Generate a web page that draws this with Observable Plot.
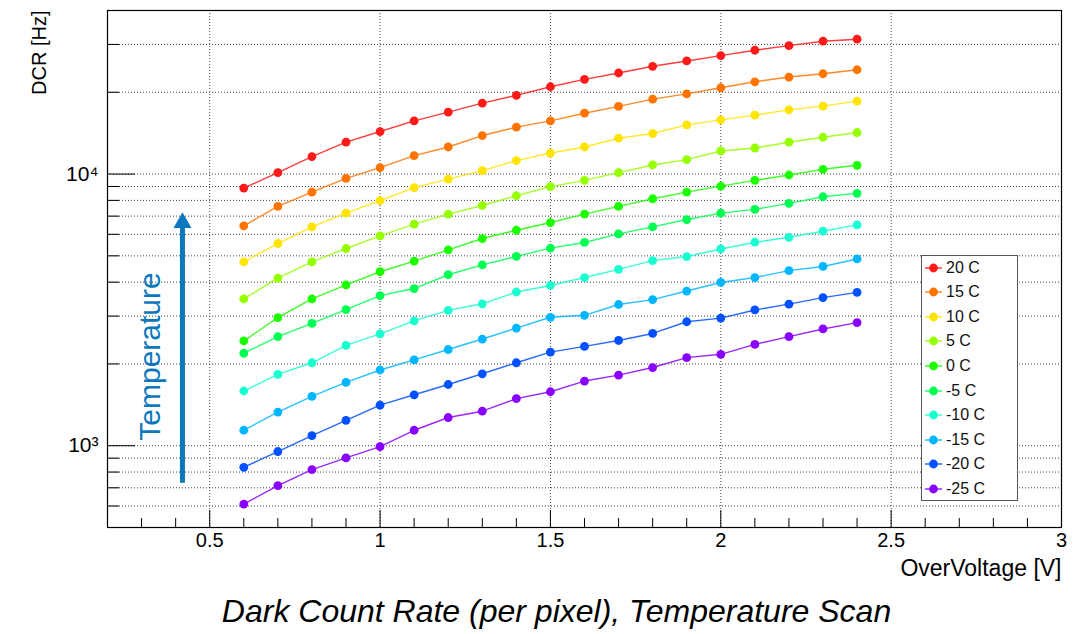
<!DOCTYPE html>
<html><head><meta charset="utf-8">
<script src="https://cdn.jsdelivr.net/npm/d3@7"></script>
<script src="https://cdn.jsdelivr.net/npm/@observablehq/plot@0.6"></script>
<style>
body{margin:0;background:#fff;}
#wrap{position:relative;width:1083px;height:634px;font-family:"Liberation Sans",Arial,Helvetica,sans-serif;}
#legend{position:absolute;left:921px;top:255px;width:97px;height:246px;border:1.5px solid #555;box-sizing:border-box;background:#fff;}
.item{position:absolute;left:0;height:20px;display:flex;align-items:center;font-size:16px;color:#111;white-space:nowrap;}
.item svg{margin-left:1px;margin-right:3px;}
</style></head><body><div id="wrap"></div>
<script>
// ---- data ----
const voltages = [0.6,0.7,0.8,0.9,1.0,1.1,1.2,1.3,1.4,1.5,1.6,1.7,1.8,1.9,2.0,2.1,2.2,2.3,2.4];
const temps = ["20 C","15 C","10 C","5 C","0 C","-5 C","-10 C","-15 C","-20 C","-25 C"];
const colors = ["#ff1a1a","#ff7400","#ffe400","#96ff00","#1cff00","#00ff50","#1affd0","#00b6ff","#0050ff","#8a00ff"];
const dcr20  = [8880,10120,11600,13100,14340,15690,16900,18240,19480,20960,22320,23550,24930,26080,27280,28560,29700,30830,31360];
const dcr15  = [6450,7600,8580,9640,10560,11690,12580,13860,14880,15690,16750,17740,18870,19740,20780,21860,22760,23400,24210];
const dcr10  = [4750,5550,6390,7180,7980,8910,9580,10290,11210,11950,12580,13550,14100,15170,15830,16480,17230,17780,18560];
const dcr5   = [3470,4140,4750,5320,5920,6540,7120,7660,8320,8990,9480,10120,10800,11300,12160,12470,13100,13660,14220];
const dcr0   = [2430,2960,3470,3910,4370,4780,5260,5790,6210,6630,7120,7600,8110,8580,9030,9480,9920,10410,10770];
const dcrM5  = [2190,2520,2820,3170,3570,3790,4260,4630,4980,5340,5600,6020,6390,6800,7180,7410,7800,8250,8490];
const dcrM10 = [1590,1830,2020,2340,2580,2880,3150,3330,3680,3890,4160,4460,4800,4970,5300,5610,5850,6160,6500];
const dcrM15 = [1140,1330,1520,1710,1900,2070,2260,2470,2710,2970,3020,3310,3450,3710,3990,4160,4410,4570,4870];
const dcrM20 = [833,952,1090,1240,1410,1540,1680,1840,2020,2210,2320,2440,2590,2860,2950,3160,3320,3510,3670];
const dcrM25 = [610,713,817,902,993,1140,1270,1340,1490,1580,1730,1820,1940,2110,2170,2360,2520,2690,2840];
const series = [dcr20,dcr15,dcr10,dcr5,dcr0,dcrM5,dcrM10,dcrM15,dcrM20,dcrM25];

const xTicks = [0.5,1,1.5,2,2.5,3];
const xTickLabels = ["0.5","1","1.5","2","2.5","3"];
const xGrid = [0.5,1,1.5,2,2.5];
const xMinor = [0.3,0.4,0.6,0.7,0.8,0.9,1.1,1.2,1.3,1.4,1.6,1.7,1.8,1.9,2.1,2.2,2.3,2.4,2.6,2.7,2.8,2.9];
const yTicks = [1000,10000];
const yTickLabels = ["10³","10⁴"];
const yMinor = [600,700,800,900,2000,3000,4000,5000,6000,7000,8000,9000,20000,30000];
const yGrid = [600,700,800,900,1000,2000,3000,4000,5000,6000,7000,8000,9000,10000,20000,30000];

const xLabel = "OverVoltage [V]";
const yLabel = "DCR [Hz]";
const caption = "Dark Count Rate (per pixel), Temperature Scan";
const annoText = [{x:0.327, y:2130, t:"Temperature"}];
const arrowShaft = [{x:0.42, y1:727, y2:6300}];
const arrowHead = [{x:0.42, y:6620}];
const annoColor = "#0b78bd";

// ---- table ----
const rows = [];
series.forEach((s,i)=> s.forEach((v,j)=> rows.push({temp:temps[i], v:voltages[j], dcr:v})));

const W = 1083, H = 634;
const mL = 107, mR = 22, mT = 10, mB = 107;
const fw = W - mL - mR, fh = H - mT - mB;
const fmtY = d => yTickLabels[yTicks.indexOf(d)];
const fmtX = d => xTickLabels[xTicks.indexOf(d)];
const dotted = {stroke:"#444", strokeWidth:1, strokeDasharray:"1,2"};

const chart = Plot.plot({
  width: W, height: H,
  marginLeft: mL, marginRight: mR, marginTop: mT, marginBottom: mB,
  style: {fontFamily: '"Liberation Sans", Arial, Helvetica, sans-serif', fontSize: "20px", background: "#fff", color: "#000"},
  x: {domain: [0.2, 3.0]},
  y: {type: "log", domain: [500, 40000]},
  color: {domain: temps, range: colors},
  marks: [
    Plot.ruleX(xGrid, dotted),
    Plot.ruleY(yGrid, dotted),
    Plot.tickX(xTicks, {stroke:"#000", insetTop: fh - 17}),
    Plot.tickX(xMinor, {stroke:"#000", insetTop: fh - 9}),
    Plot.tickY(yTicks, {stroke:"#000", insetRight: fw - 28}),
    Plot.tickY(yMinor, {stroke:"#000", insetRight: fw - 12}),
    Plot.axisX(xTicks, {tickSize: 0, tickPadding: 5, tickFormat: fmtX, label: null, fontSize: 20}),
    Plot.axisY(yTicks, {tickSize: 0, tickPadding: 9, tickFormat: fmtY, label: null, fontSize: 21}),
    Plot.line(rows, {x:"v", y:"dcr", z:"temp", stroke:"temp", strokeWidth:1.4, strokeOpacity:0.85}),
    Plot.dot(rows, {x:"v", y:"dcr", fill:"temp", r:4.4}),
    Plot.ruleX(arrowShaft, {x:"x", y1:"y1", y2:"y2", stroke: annoColor, strokeWidth: 5}),
    Plot.dot(arrowHead, {x:"x", y:"y", symbol:"triangle", r:6.7, fill: annoColor}),
    Plot.text(annoText, {x:"x", y:"y", text:"t", rotate:-90, fill: annoColor, fontSize: 30}),
    Plot.text([yLabel], {frameAnchor:"top-left", rotate:-90, textAnchor:"end", dx: -76, dy: 0, fontSize: 20}),
    Plot.text([xLabel], {frameAnchor:"bottom-right", textAnchor:"end", dy: 48, fontSize: 23}),
    Plot.text([caption], {frameAnchor:"bottom", dx: -28, dy: 94, fontSize: 32, fontStyle:"italic"}),
    Plot.frame({stroke:"#000", strokeWidth:1.2})
  ]
});
const wrap = document.getElementById("wrap");
wrap.appendChild(chart);

// ---- legend ----
const leg = document.createElement("div");
leg.id = "legend";
temps.forEach((t,i)=>{
  const it = document.createElement("div");
  it.className = "item";
  it.style.top = (1.5 + i*24.6) + "px";
  it.innerHTML = `<svg width="20" height="20"><line x1="2" y1="10" x2="19" y2="10" stroke="${colors[i]}" stroke-width="1.6" stroke-opacity="0.8"/><circle cx="10.5" cy="10" r="4.4" fill="${colors[i]}"/></svg><span>${t}</span>`;
  leg.appendChild(it);
});
wrap.appendChild(leg);
</script></body></html>
